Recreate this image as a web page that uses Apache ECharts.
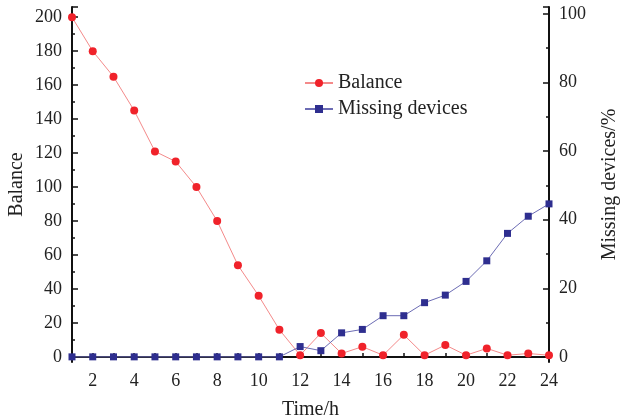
<!DOCTYPE html>
<html>
<head>
<meta charset="utf-8">
<script src="https://cdn.jsdelivr.net/npm/echarts@6/dist/echarts.min.js"></script>
<style>html,body{margin:0;padding:0;background:#fff}#c{width:620px;height:420px}</style>
</head>
<body>
<div id="c"></div>
<script>
const hours = ['1','2','3','4','5','6','7','8','9','10','11','12','13','14','15','16','17','18','19','20','21','22','23','24'];
const balance = [200,180,165,145,121,115,100,80,54,36,16,1,14,2,6,1,13,1,7,1,5,1,2,1];
const missing = [0,0,0,0,0,0,0,0,0,0,0,3,1.8,7,8,12,12,15.8,18,22,28,36,41,44.6];
const leftTicks = [0,20,40,60,80,100,120,140,160,180,200];
const leftMinor = [10,30,50,70,90,110,130,150,170,190];
const rightTicks = [0,20,40,60,80,100];
const rightMinor = [10,30,50,70,90];

const FONT = 'Liberation Serif';
const LMIN = -3, LMAX = 206, RMIN = -1.5, RMAX = 102;
const chart = echarts.init(document.getElementById('c'));
const minorAxis = (min, max, pos, vals) => ({
  type: 'value', min: min, max: max, position: pos, offset: 0,
  axisLine: {show: false},
  axisTick: {show: true, inside: true, length: 3, customValues: vals, lineStyle: {color: '#111', width: 1.5}},
  axisLabel: {show: false},
  splitLine: {show: false}
});
chart.setOption({
  backgroundColor: '#fff',
  animation: false,
  grid: {left: 72, right: 71, top: 7, bottom: 58, outerBoundsMode: 'none', containLabel: false},
  legend: {
    orient: 'vertical', left: 299, top: 68, itemGap: 6, itemWidth: 28, itemHeight: 10,
    textStyle: {fontFamily: FONT, fontSize: 20, color: '#222'},
    data: ['Balance', 'Missing devices']
  },
  xAxis: {
    type: 'category', data: hours, boundaryGap: false,
    name: 'Time/h', nameLocation: 'middle', nameGap: 38,
    nameTextStyle: {fontFamily: FONT, fontSize: 20, color: '#222'},
    axisLine: {lineStyle: {color: '#111', width: 2}},
    axisTick: {inside: true, length: 4, interval: 0, lineStyle: {color: '#111', width: 1.5}},
    axisLabel: {fontFamily: FONT, fontSize: 18, color: '#222', margin: 10,
      interval: function (i) { return i % 2 === 1; }},
    splitLine: {show: false}
  },
  yAxis: [{
    type: 'value', min: LMIN, max: LMAX,
    name: 'Balance', nameLocation: 'middle', nameGap: 45, nameRotate: 90, nameMoveOverlap: false,
    nameTextStyle: {fontFamily: FONT, fontSize: 20, color: '#222'},
    axisLine: {show: true, lineStyle: {color: '#111', width: 2}},
    axisTick: {show: true, inside: true, length: 6, customValues: leftTicks.concat([LMAX]), lineStyle: {color: '#111', width: 1.5}},
    axisLabel: {fontFamily: FONT, fontSize: 18, color: '#222', margin: 10, customValues: leftTicks},
    splitLine: {show: false}
  }, {
    type: 'value', min: RMIN, max: RMAX, position: 'right',
    name: 'Missing devices/%', nameLocation: 'middle', nameGap: 51, nameRotate: 90,
    nameTextStyle: {fontFamily: FONT, fontSize: 20, color: '#222'},
    axisLine: {show: true, lineStyle: {color: '#111', width: 2}},
    axisTick: {show: true, inside: true, length: 6, customValues: rightTicks.concat([RMAX]), lineStyle: {color: '#111', width: 1.5}},
    axisLabel: {fontFamily: FONT, fontSize: 18, color: '#222', margin: 10, customValues: rightTicks},
    splitLine: {show: false}
  },
    minorAxis(LMIN, LMAX, 'left', leftMinor),
    minorAxis(RMIN, RMAX, 'right', rightMinor)
  ],
  series: [{
    name: 'Balance', type: 'line', yAxisIndex: 0, data: balance,
    symbol: 'circle', symbolSize: 8,
    itemStyle: {color: '#f0222a'},
    lineStyle: {color: '#f48a8a', width: 1}
  }, {
    name: 'Missing devices', type: 'line', yAxisIndex: 1, data: missing,
    symbol: 'rect', symbolSize: 7,
    itemStyle: {color: '#2e2e8f'},
    lineStyle: {color: '#6c6cb4', width: 1}
  }]
});
</script>
</body>
</html>
